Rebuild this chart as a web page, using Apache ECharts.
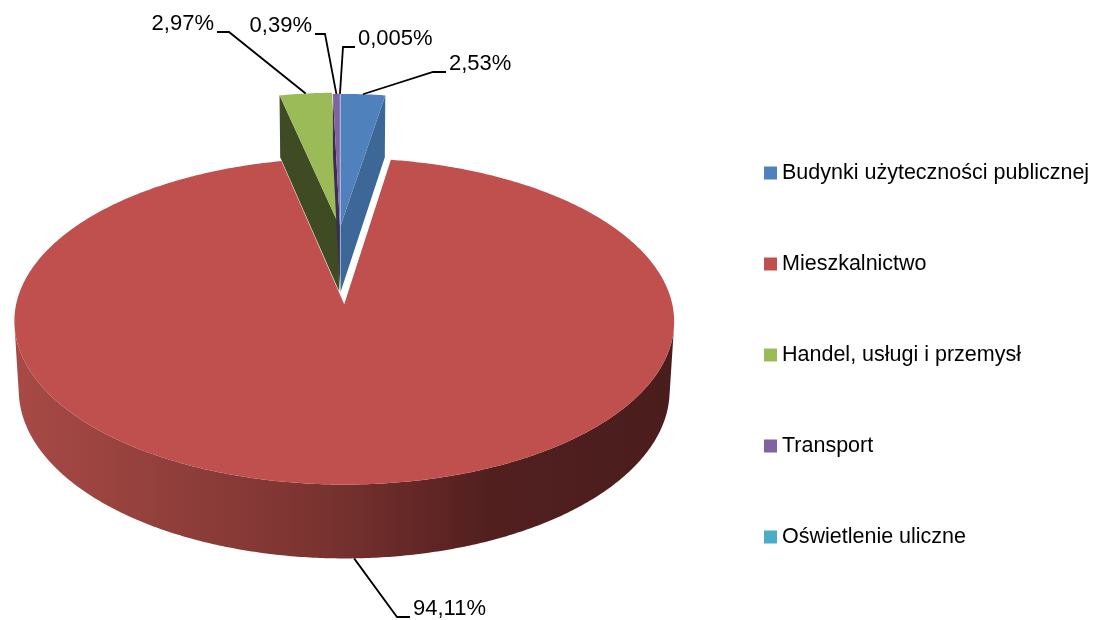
<!DOCTYPE html>
<html>
<head>
<meta charset="utf-8">
<script src="https://cdn.jsdelivr.net/npm/echarts@6/dist/echarts.min.js"></script>
<style>
  html, body { margin: 0; padding: 0; background: #fff; }
  #chart { width: 1096px; height: 620px; }
</style>
</head>
<body>
<div id="chart"></div>
<script>
// data
var categories = ['Budynki użyteczności publicznej', 'Mieszkalnictwo', 'Handel, usługi i przemysł', 'Transport', 'Oświetlenie uliczne'];
var shares = [2.53, 94.11, 2.97, 0.39, 0.005];
var shareLabels = ['2,53%', '94,11%', '2,97%', '0,39%', '0,005%'];

// look
var topColors = ['#4F81BD', '#C0504D', '#9BBB59', '#8064A2', '#4BACC6'];
var wallColors = ['#3C6796', '#7A3230', '#3E4B23', '#3A2C52', '#2F7D90'];
var explode = [0.02, 0.49, 0.03, 0.02, 0.02];
var sideGradient = {
  type: 'linear', x: 0, y: 0, x2: 1, y2: 0,
  colorStops: [
    { offset: 0, color: '#A84A46' },
    { offset: 0.45, color: '#7C3431' },
    { offset: 0.72, color: '#521F1F' },
    { offset: 1, color: '#4A1D1D' }
  ]
};
// leader lines: elbow point and tail end next to the text
var labelLayout = [
  { elbow: [433, 72], tail: [446, 72] },
  { elbow: [397, 617], tail: [410, 617] },
  { elbow: [229, 32], tail: [217, 32] },
  { elbow: [325, 34], tail: [315, 34] },
  { elbow: [343, 47], tail: [355, 47] }
];

// camera for the tilted pie (radius 1, thickness pieH)
var cam = { cx: 340, cy: 229, f: 2758, d: 8.84, tilt: 27.9 * Math.PI / 180 };
var pieH = 0.2434;
var sT = Math.sin(cam.tilt), cT = Math.cos(cam.tilt);
var camV = -cam.d * cT;

function proj(u, v, h) {
  var yc = h * cT + v * sT;
  var zc = cam.d + v * cT - h * sT;
  return [cam.cx + cam.f * u / zc, cam.cy - cam.f * yc / zc];
}
function faces(pu, pv, nu, nv) {
  return (0 - pu) * nu + (camV - pv) * nv > 0;
}

var total = shares.reduce(function (a, b) { return a + b; }, 0);
var slices = [];
var acc = 0;
shares.forEach(function (v, i) {
  var a1 = acc / total * 2 * Math.PI;
  acc += v;
  var a2 = acc / total * 2 * Math.PI;
  var am = (a1 + a2) / 2;
  slices.push({ a1: a1, a2: a2, am: am, ou: explode[i] * Math.sin(am), ov: explode[i] * Math.cos(am) });
});

function renderSlice(i) {
  return function (params, api) {
    var s = slices[i];
    var kids = [];
    var n = Math.max(2, Math.ceil((s.a2 - s.a1) / (0.5 * Math.PI / 180)));
    var rim = [];
    for (var k = 0; k <= n; k++) {
      var a = s.a1 + (s.a2 - s.a1) * k / n;
      rim.push([s.ou + Math.sin(a), s.ov + Math.cos(a), a]);
    }
    function wallPoly(p) {
      return [proj(s.ou, s.ov, 0), proj(p[0], p[1], 0), proj(p[0], p[1], -pieH), proj(s.ou, s.ov, -pieH)];
    }
    // radial walls
    var first = rim[0], last = rim[rim.length - 1];
    if (faces(s.ou, s.ov, -Math.cos(s.a1), Math.sin(s.a1))) {
      kids.push({ type: 'polygon', shape: { points: wallPoly(first) }, style: { fill: wallColors[i] } });
    }
    if (faces(s.ou, s.ov, Math.cos(s.a2), -Math.sin(s.a2))) {
      kids.push({ type: 'polygon', shape: { points: wallPoly(last) }, style: { fill: wallColors[i] } });
    }
    // outer wall, visible runs only
    var run = [];
    function flush() {
      if (run.length > 1) {
        var pts = run.map(function (p) { return proj(p[0], p[1], 0); });
        for (var j = run.length - 1; j >= 0; j--) pts.push(proj(run[j][0], run[j][1], -pieH));
        kids.push({ type: 'polygon', shape: { points: pts },
          style: { fill: i === 1 ? sideGradient : wallColors[i] } });
      }
      run = [];
    }
    for (var k2 = 0; k2 < rim.length - 1; k2++) {
      var am = (rim[k2][2] + rim[k2 + 1][2]) / 2;
      var pu = s.ou + Math.sin(am), pv = s.ov + Math.cos(am);
      if (faces(pu, pv, Math.sin(am), Math.cos(am))) {
        if (!run.length) run.push(rim[k2]);
        run.push(rim[k2 + 1]);
      } else {
        flush();
      }
    }
    flush();
    // top face
    var top = [proj(s.ou, s.ov, 0)].concat(rim.map(function (p) { return proj(p[0], p[1], 0); }));
    kids.push({ type: 'polygon', shape: { points: top }, style: { fill: topColors[i] } });

    // label with leader line
    var mu = s.ou + Math.sin(s.am), mv = s.ov + Math.cos(s.am);
    var anchor = Math.cos(s.am) < 0 ? proj(mu, mv, -pieH) : proj(mu, mv, 0);
    var lay = labelLayout[i];
    kids.push({ type: 'polyline', shape: { points: [anchor, lay.elbow, lay.tail] },
      style: { stroke: '#000', lineWidth: 1.8, fill: null } });
    var right = lay.tail[0] < lay.elbow[0];
    kids.push({ type: 'text', x: lay.tail[0] + (right ? -3 : 3), y: lay.tail[1] - 8,
      style: { text: shareLabels[i], fill: '#000', fontSize: 22, fontFamily: 'Liberation Sans',
        align: right ? 'right' : 'left', verticalAlign: 'middle' } });
    return { type: 'group', children: kids };
  };
}

var chart = echarts.init(document.getElementById('chart'));
chart.setOption({
  animation: false,
  backgroundColor: '#fff',
  legend: {
    data: categories,
    orient: 'vertical',
    left: 764,
    top: 162,
    padding: 0,
    icon: 'rect',
    itemWidth: 13,
    itemHeight: 13,
    itemGap: 69,
    selectedMode: false,
    textStyle: { color: '#000', fontSize: 21.5, lineHeight: 22, fontFamily: 'Liberation Sans' }
  },
  series: categories.map(function (name, i) {
    return {
      type: 'custom',
      name: name,
      coordinateSystem: 'none',
      z: i === 1 ? 3 : 2,
      itemStyle: { color: topColors[i] },
      renderItem: renderSlice(i),
      data: [shares[i]]
    };
  })
});
</script>
</body>
</html>
